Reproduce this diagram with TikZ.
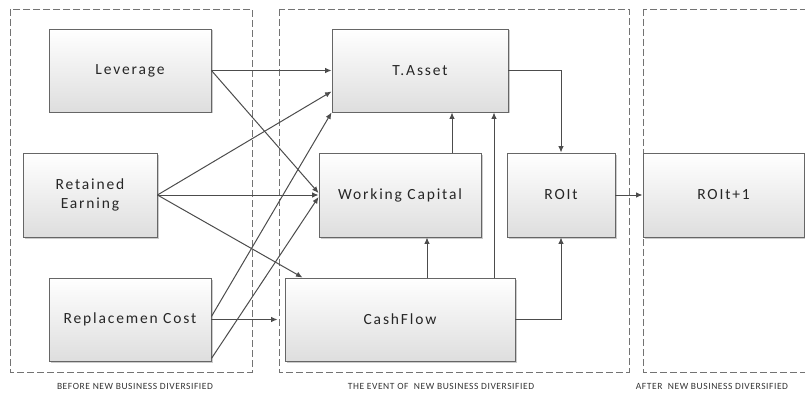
\documentclass[tikz,border=0pt]{standalone}
\usepackage{fontspec}
\setmainfont{Carlito}
\usetikzlibrary{arrows.meta,calc,shadows}

\tikzset{
    blk/.style={draw=black!60, line width=0.9pt, top color=white, bottom color=black!13,
        drop shadow={shadow xshift=1.5pt, shadow yshift=-1.5pt, fill=black!40, opacity=0.5},
        text=black!85, align=center, inner sep=2pt,
        font=\fontsize{15.5}{19}\selectfont\addfontfeature{LetterSpace=12}},
    zone/.style={draw=black!55, line width=0.8pt, dash pattern=on 7pt off 3pt},
    zonetitle/.style={text=black!80, font=\fontsize{9.5}{11}\selectfont\addfontfeature{LetterSpace=6}},
    link/.style={draw=black!70, line width=1pt}
}

\begin{document}
\begin{tikzpicture}[x=1pt, y=-1pt, >={Latex[length=6.5pt,width=5.5pt]}]
\clip (0,0) rectangle (805,401);

% the three periods
\draw[zone] (10,9) rectangle (252,372);
\draw[zone] (279,9) rectangle (629,372);
\draw[zone] (643,9) rectangle (812,372);
\node[zonetitle] (t1) at (135,386) {BEFORE NEW BUSINESS DIVERSIFIED};
\node[zonetitle] (t2) at (441,386) {THE EVENT OF\ \ NEW BUSINESS DIVERSIFIED};
\node[zonetitle] (t3) at (712,386) {AFTER\ \ NEW BUSINESS DIVERSIFIED};

% blocks
\node[blk, minimum width=162, minimum height=83] (lev) at (130,70.5) {Leverage};
\node[blk, minimum width=134, minimum height=84] (ret) at (90,195) {Retained\\Earning};
\node[blk, minimum width=162, minimum height=83] (rep) at (130,319.5) {Replacemen Cost};
\node[blk, minimum width=176, minimum height=83] (tas) at (420,70.5) {T.Asset};
\node[blk, minimum width=162, minimum height=84] (wc) at (400,195) {Working Capital};
\node[blk, minimum width=108, minimum height=84] (roi) at (561,195) {ROIt};
\node[blk, minimum width=230, minimum height=83] (cf) at (400,319.5) {CashFlow};
\node[blk, minimum width=161, minimum height=84] (roin) at (723.5,195) {ROIt+1};

\coordinate (x1) at (452,0);
\coordinate (x2) at (494,0);
\coordinate (x3) at (427,0);

% links
\draw[link,->] (lev.east) -- (tas.west);
\draw[link,->] (lev.east) -- ([yshift=2pt]wc.west);
\draw[link,->] (ret.east) -- ($(tas.west)!0.5!(tas.south west)$);
\draw[link,->] (ret.east) -- (wc.west);
\draw[link,->] (ret.east) -- ([xshift=18pt]cf.north west);
\draw[link,->] ([yshift=3pt]rep.east) -- (tas.south west);
\draw[link,->] ([yshift=3pt]rep.south east) -- ([yshift=-2pt]wc.west);
\draw[link,->,shorten >=7pt] (rep.east) -- (cf.west);

\draw[link,->] (wc.north -| x1) -- (tas.south -| x1);
\draw[link,->] (cf.north -| x2) -- (tas.south -| x2);
\draw[link,->] (cf.north -| x3) -- (wc.south -| x3);
\draw[link,->] (tas.east) -| (roi.north);
\draw[link,->] (cf.east) -| (roi.south);
\draw[link,->] (roi.east) -- (roin.west);

\end{tikzpicture}
\end{document}
